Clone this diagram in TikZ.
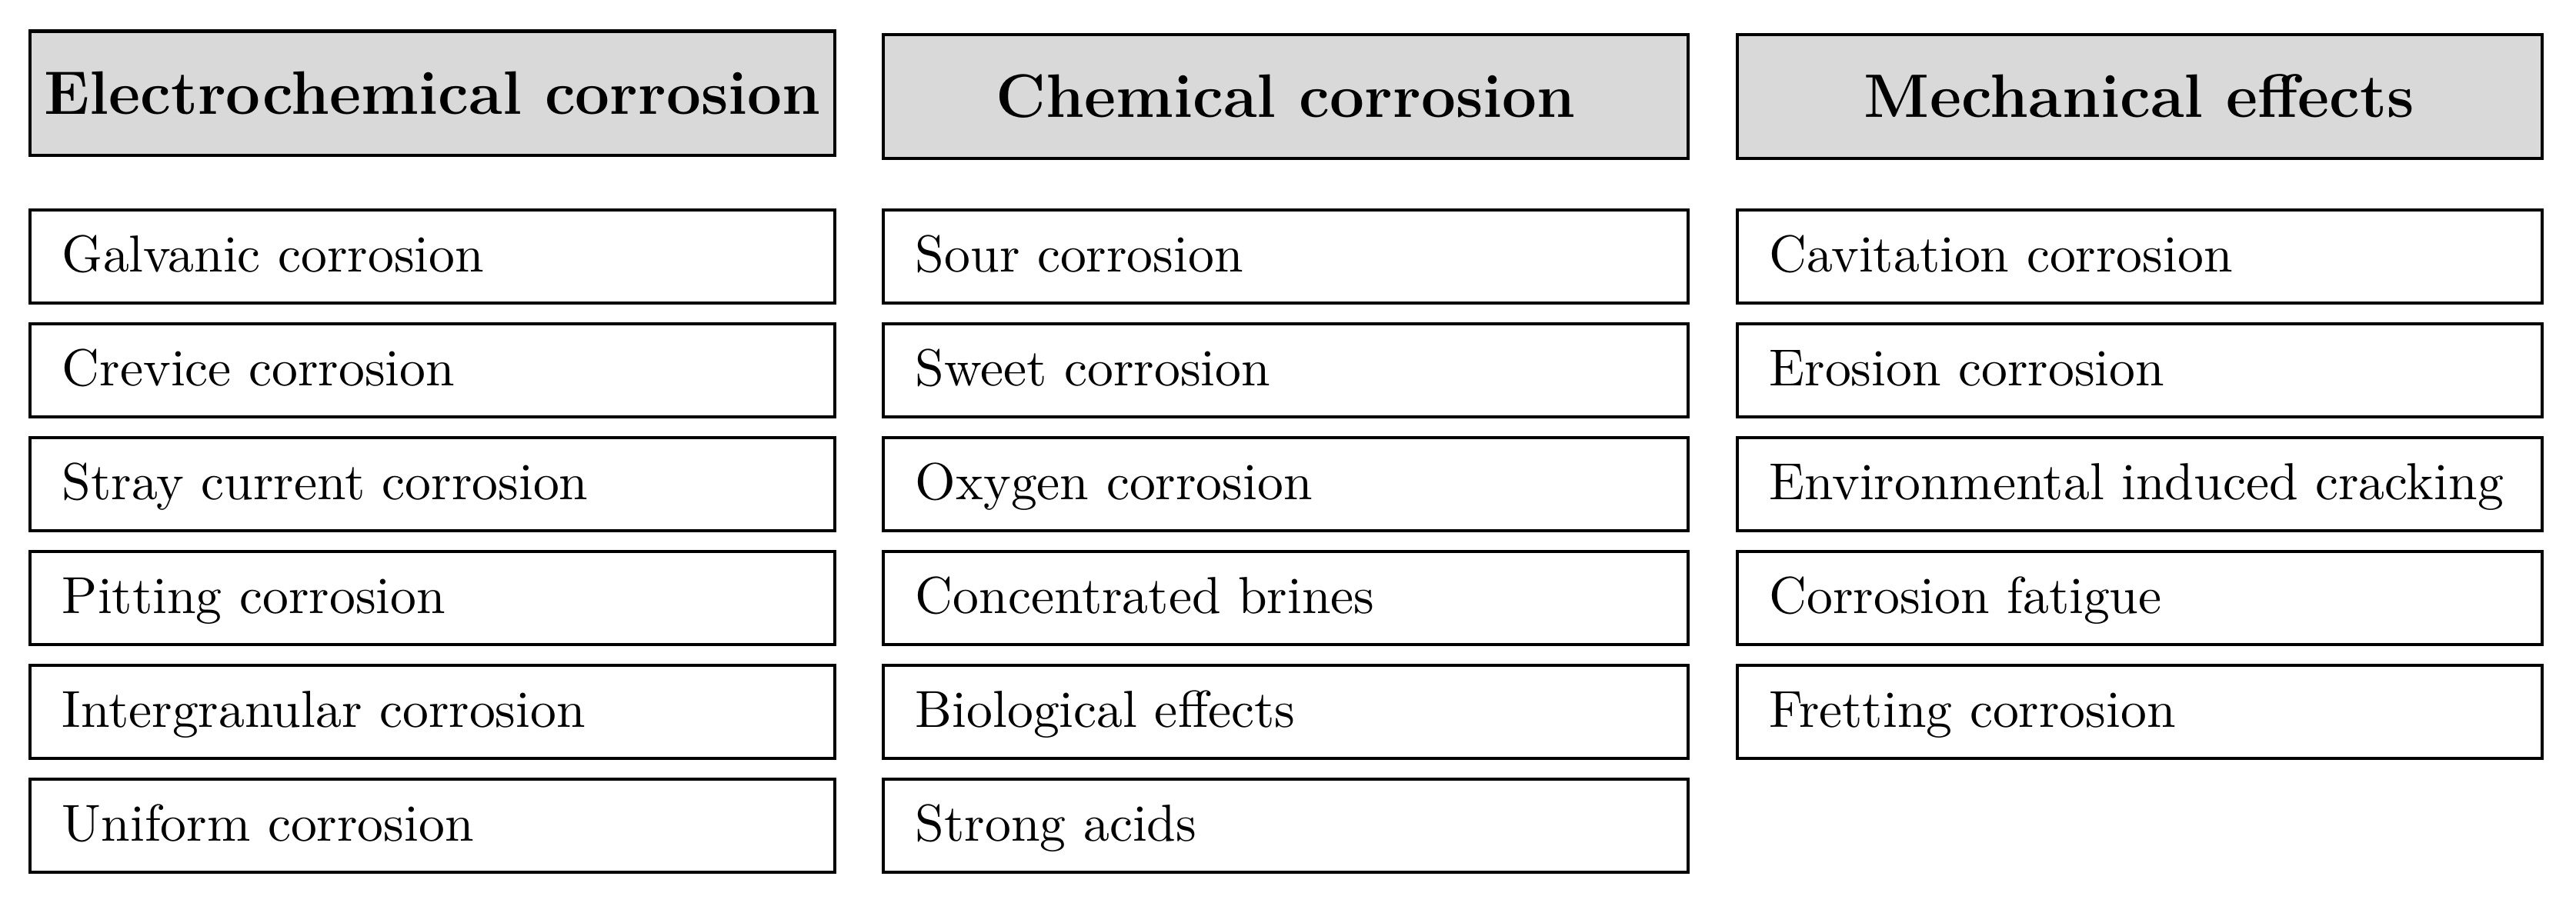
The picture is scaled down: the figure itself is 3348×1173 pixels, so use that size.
\documentclass[tikz,border=0pt]{standalone}
\usetikzlibrary{positioning}
\begin{document}
\begin{tikzpicture}[x=0.1478pt,y=-0.1478pt,
  box/.style={draw=black,line width=0.6pt,rectangle,minimum width=154.6pt,minimum height=17.9pt,
    text width=142.2pt,inner xsep=6.2pt,inner ysep=0pt,text height=6.8pt,text depth=1pt,
    align=left,font=\normalsize},
  headbox/.style={draw=black,line width=0.6pt,rectangle,minimum width=154.6pt,minimum height=23.8pt,
    fill=black!15,inner sep=0pt,text height=8.1pt,text depth=0pt,align=center,
    font=\fontsize{11.8pt}{14pt}\selectfont\bfseries}]
\useasboundingbox (0,0) rectangle (3348,1173);
% headers
\node[headbox] (h1) at (562,121) {Electrochemical corrosion};
\node[headbox] (h2) at (1671,125.5) {Chemical corrosion};
\node[headbox] (h3) at (2780.5,125.5) {Mechanical effects};
% column 1
\node[box] (a1) at (562,333.5) {Galvanic corrosion};
\node[box] (a2) at (562,481.5) {Crevice corrosion};
\node[box] (a3) at (562,629.5) {Stray current corrosion};
\node[box] (a4) at (562,777.5) {Pitting corrosion};
\node[box] (a5) at (562,925.5) {Intergranular corrosion};
\node[box] (a6) at (562,1073.5) {Uniform corrosion};
% column 2
\node[box] (b1) at (1671,333.5) {Sour corrosion};
\node[box] (b2) at (1671,481.5) {Sweet corrosion};
\node[box] (b3) at (1671,629.5) {Oxygen corrosion};
\node[box] (b4) at (1671,777.5) {Concentrated brines};
\node[box] (b5) at (1671,925.5) {Biological effects};
\node[box] (b6) at (1671,1073.5) {Strong acids};
% column 3
\node[box] (c1) at (2780.5,333.5) {Cavitation corrosion};
\node[box] (c2) at (2780.5,481.5) {Erosion corrosion};
\node[box] (c3) at (2780.5,629.5) {Environmental induced cracking};
\node[box] (c4) at (2780.5,777.5) {Corrosion fatigue};
\node[box] (c5) at (2780.5,925.5) {Fretting corrosion};
\end{tikzpicture}
\end{document}
